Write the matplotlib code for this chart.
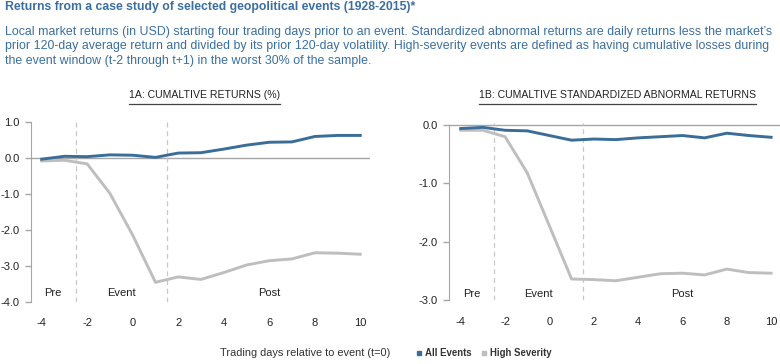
import matplotlib
matplotlib.use("Agg")
import matplotlib.pyplot as plt
from matplotlib.lines import Line2D

# data
days = list(range(-4, 11))
all_ret = [-0.04, 0.04, 0.03, 0.08, 0.07, 0.01, 0.13, 0.14, 0.24, 0.35, 0.43, 0.44, 0.59, 0.62, 0.62]
sev_ret = [-0.09, -0.07, -0.17, -0.99, -2.15, -3.46, -3.31, -3.38, -3.19, -2.98, -2.86, -2.81, -2.64, -2.65, -2.68]
all_abn = [-0.06, -0.04, -0.09, -0.10, -0.18, -0.26, -0.24, -0.25, -0.22, -0.20, -0.18, -0.22, -0.14, -0.18, -0.21]
sev_abn = [-0.09, -0.09, -0.20, -0.82, -1.73, -2.64, -2.65, -2.67, -2.61, -2.55, -2.54, -2.57, -2.47, -2.53, -2.54]
windows = [-2.5, 1.5]
phase_names = ["Pre", "Event", "Post"]
phase_x = [-3.5, -0.5, 6.0]
xticks = [-4, -2, 0, 2, 4, 6, 8, 10]

plt.rcParams['font.family'] = ['Liberation Sans', 'DejaVu Sans']
plt.rcParams['axes.unicode_minus'] = False

BLUE = "#3a6d98"
GREY = "#bebebe"
HEAD = "#3b6f9f"
AXC = "#a6a6a6"

fig = plt.figure(figsize=(7.8, 3.64), dpi=100)

fig.text(0.006, 0.982, "Returns from a case study of selected geopolitical events (1928-2015)*",
         color=HEAD, fontsize=8.8, fontweight="bold", va="center", ha="left")
para = ["Local market returns (in USD) starting four trading days prior to an event. Standardized abnormal returns are daily returns less the market\u2019s",
        "prior 120-day average return and divided by its prior 120-day volatility. High-severity events are defined as having cumulative losses during",
        "the event window (t-2 through t+1) in the worst 30% of the sample."]
for i, line in enumerate(para):
    fig.text(0.006, 1 - (32 + 14.5 * i) / 364, line, color=HEAD, fontsize=8.9, va="center", ha="left")


def panel(rect, a, s, ylim, yticks, label_y, title, tx):
    ax = fig.add_axes(rect)
    ax.axhline(0, color=AXC, lw=1, zorder=1)
    for w in windows:
        ax.axvline(w, color="#c8c8c8", lw=0.9, ls=(0, (4, 3)), zorder=1)
    ax.plot(days, s, color=GREY, lw=2.1, zorder=2)
    ax.plot(days, a, color=BLUE, lw=2.1, zorder=3)
    for n, px in zip(phase_names, phase_x):
        ax.text(px, label_y, n, ha="center", va="center", fontsize=8, color="#222222")
    ax.set_ylim(*ylim)
    ax.set_yticks(yticks)
    ax.set_yticklabels([f"{v:.1f}" for v in yticks])
    ax.set_xticks(xticks)
    for sp in ["top", "right", "bottom"]:
        ax.spines[sp].set_visible(False)
    ax.spines["left"].set_color(AXC)
    ax.spines["left"].set_bounds(yticks[-1], yticks[0])
    ax.tick_params(axis="y", colors=AXC, labelcolor="#222222", length=4, width=1, labelsize=8, pad=4)
    ax.tick_params(axis="x", length=0, labelsize=8, labelcolor="#222222", pad=12)
    t = fig.text(tx, 0.74, title, ha="center", va="center", fontsize=7.6, color="#222222")
    fig.canvas.draw()
    bb = t.get_window_extent().transformed(fig.transFigure.inverted())
    fig.add_artist(Line2D([bb.x0, bb.x1], [0.714, 0.714], color="#444444", lw=0.9,
                          transform=fig.transFigure))
    return ax


ax1 = panel([0.0397, 0.171, 0.435, 0.4995], all_ret, sev_ret, (-4, 1.05),
            [1.0, 0.0, -1.0, -2.0, -3.0, -4.0], -3.77, "1A: CUMALTIVE RETURNS (%)", 0.262)
ax1.set_xlim(-4.47, 10.44)
ax2 = panel([0.5756, 0.1758, 0.4244, 0.4855], all_abn, sev_abn, (-3, 0.03),
            [0.0, -1.0, -2.0, -3.0], -2.89, "1B: CUMALTIVE STANDARDIZED ABNORMAL RETURNS", 0.792)
ax2.set_xlim(-4.53, 10.4)

fig.text(0.282, 0.03, "Trading days relative to event (t=0)", fontsize=7.9, color="#333333",
         ha="left", va="center")
handles = [Line2D([], [], ls="", marker="s", ms=3.3, color=BLUE),
           Line2D([], [], ls="", marker="s", ms=3.3, color=GREY)]
fig.legend(handles, ["All Events", "High Severity"], loc="center left",
           bbox_to_anchor=(0.528, 0.03), ncol=2, frameon=False, handlelength=0.5,
           handletextpad=0.4, columnspacing=1.0, borderpad=0, prop={"size": 6.9, "weight": "bold"},
           labelcolor="#333333")

fig.savefig("out.png", dpi=100)
